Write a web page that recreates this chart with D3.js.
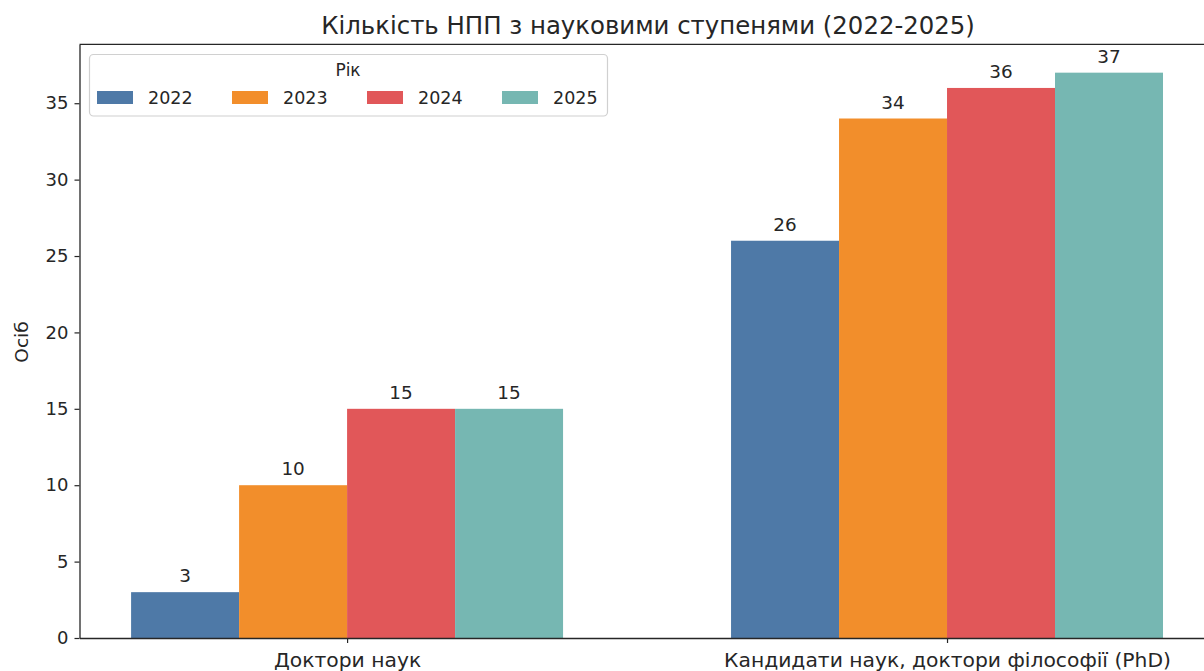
<!DOCTYPE html>
<html><head><meta charset="utf-8">
<script src="https://cdn.jsdelivr.net/npm/d3@7"></script>
<style>body{margin:0;background:#fff;} text{font-family:"DejaVu Sans",sans-serif;fill:#262626;}</style>
</head><body>
<svg id="c" width="1204" height="671"></svg>
<script>
const categories = ["Доктори наук", "Кандидати наук, доктори філософії (PhD)"];
const years = ["2022", "2023", "2024", "2025"];
const v2022 = [3, 26];
const v2023 = [10, 34];
const v2024 = [15, 36];
const v2025 = [15, 37];
const yTicks = [0, 5, 10, 15, 20, 25, 30, 35];
const colors = ["#4e79a7", "#f28e2b", "#e15759", "#76b7b2"];
const title = "Кількість НПП з науковими ступенями (2022-2025)";
const yLabel = "Осіб";
const legendTitle = "Рік";

const series = [v2022, v2023, v2024, v2025];
const svg = d3.select("#c");
const pL = 79.5, pR = 1214.6, pT = 44.4, pB = 638;
const barW = 0.18;
const x = d3.scaleLinear().domain([-0.446, 1.446]).range([pL, pR]);
const y = d3.scaleLinear().domain([0, 38.85]).range([pB, pT]);

// bars
series.forEach((vals, si) => {
  const off = (si - 1.5) * barW;
  svg.append("g").selectAll("rect").data(vals).join("rect")
    .attr("x", (d, i) => x(i + off - barW / 2))
    .attr("width", (d, i) => x(i + off + barW / 2) - x(i + off - barW / 2))
    .attr("y", d => y(d))
    .attr("height", d => y(0) - y(d))
    .attr("fill", colors[si]);
  svg.append("g").selectAll("text").data(vals).join("text")
    .attr("x", (d, i) => x(i + off))
    .attr("y", d => y(d) - 10)
    .attr("text-anchor", "middle")
    .attr("font-size", 18.4)
    .text(d => d);
});

// axes
const yAxis = d3.axisLeft(y).tickValues(yTicks).tickSize(5).tickSizeOuter(0).tickPadding(6);
const gy = svg.append("g").attr("transform", `translate(${pL},0)`).call(yAxis);
gy.selectAll("text").attr("font-size", 18).style("font-family", "DejaVu Sans").attr("fill", "#262626");
gy.select(".domain").attr("stroke", "#262626").attr("stroke-width", 1.3);
gy.selectAll(".tick line").attr("stroke", "#262626").attr("stroke-width", 1.2);

const xAxis = d3.axisBottom(x).tickValues([0, 1]).tickFormat(i => categories[i]).tickSize(5).tickSizeOuter(0);
const gx = svg.append("g").attr("transform", `translate(0,${pB})`).call(xAxis);
gx.selectAll("text").attr("font-size", 20.3).style("font-family", "DejaVu Sans").attr("fill", "#262626")
  .attr("y", 29).attr("dy", null);
gx.select(".domain").attr("stroke", "#262626").attr("stroke-width", 1.3);
gx.selectAll(".tick line").attr("stroke", "#262626").attr("stroke-width", 1.2);

// top & right spines
svg.append("line").attr("x1", pL).attr("x2", pR).attr("y1", pT).attr("y2", pT)
  .attr("stroke", "#262626").attr("stroke-width", 1.3);
svg.append("line").attr("x1", pR).attr("x2", pR).attr("y1", pT).attr("y2", pB)
  .attr("stroke", "#262626").attr("stroke-width", 1.3);

// title
svg.append("text").attr("x", 648).attr("y", 34).attr("text-anchor", "middle")
  .attr("font-size", 24.4).text(title);
// y label
svg.append("text").attr("transform", "translate(28,342) rotate(-90)").attr("text-anchor", "middle")
  .attr("font-size", 18.5).text(yLabel);

// legend
const lg = svg.append("g");
lg.append("rect").attr("x", 89.5).attr("y", 54.5).attr("width", 518).attr("height", 61.5)
  .attr("rx", 4).attr("fill", "#fff").attr("fill-opacity", 0.8).attr("stroke", "#d0d0d0").attr("stroke-width", 1.2);
lg.append("text").attr("x", 348).attr("y", 76).attr("text-anchor", "middle").attr("font-size", 17).text(legendTitle);
years.forEach((yr, i) => {
  const lx = 97 + i * 135;
  lg.append("rect").attr("x", lx).attr("y", 91).attr("width", 36).attr("height", 13).attr("fill", colors[i]);
  lg.append("text").attr("x", lx + 51).attr("y", 104).attr("font-size", 17.5).text(yr);
});
</script>
</body></html>
